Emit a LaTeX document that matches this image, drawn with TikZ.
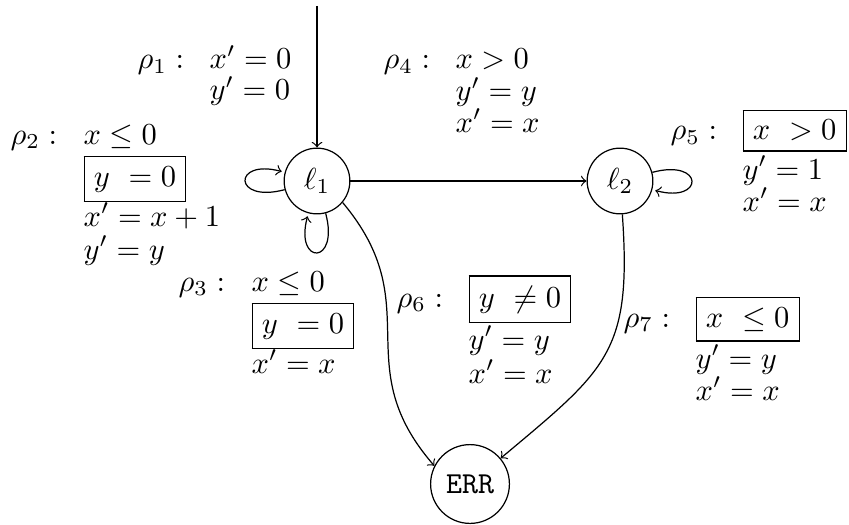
\documentclass[tikz,border=0pt]{standalone}
\begin{document}
\begin{tikzpicture}[x=0.328pt,y=0.328pt,
  st/.style={draw,circle},
  lab/.style={anchor=base west,inner sep=0pt},
  >=to]
\useasboundingbox (0,0) rectangle (849,-524);
% states
\node[st] (l1) at (317,-181) {$\ell_1$};
\node[st] (l2) at (620,-181) {$\ell_2$};
\node[st] (err) at (470,-484) {\texttt{ERR}};
\coordinate (init) at (317,-6);
% transitions
\draw[->] (init) -- (l1);
\draw[->] (l1) -- (l2);
\path[->] (l1) edge[loop left] (l1);
\path[->] (l1) edge[loop below] (l1);
\path[->] (l2) edge[loop right] (l2);
\draw[->] (l1.-40) .. controls +(-50:135) and +(131:135) .. (err.153);
\draw[->] (l2) to[out=-86,in=40,looseness=1.3] (err);
% rho1
\node[lab] (r1) at (137,-69) {$\rho_1 :$};
\node[lab] (r1a) at (209,-69) {$x' = 0$};
\node[lab] (r1b) at (209,-100) {$y' = 0$};
% rho4
\node[lab] (r4) at (383,-69) {$\rho_4 :$};
\node[lab] (r4a) at (455,-69) {$x > 0$};
\node[lab] (r4b) at (455,-101) {$y' = y$};
\node[lab] (r4c) at (455,-132) {$x' = x$};
% rho2
\node[lab] (r2) at (10,-144) {$\rho_2 :$};
\node[lab] (r2a) at (83,-144) {$x \leq 0$};
\node[lab] (r2b) at (83,-186) {\fbox{$y\ = 0$}};
\node[lab] (r2c) at (83,-226) {$x' = x + 1$};
\node[lab] (r2d) at (83,-259) {$y' = y$};
% rho3
\node[lab] (r3) at (178,-291) {$\rho_3 :$};
\node[lab] (r3a) at (251,-291) {$x \leq 0$};
\node[lab] (r3b) at (251,-333) {\fbox{$y\ = 0$}};
\node[lab] (r3c) at (251,-373) {$x' = x$};
% rho5
\node[lab] (r5) at (670,-140) {$\rho_5 :$};
\node[lab] (r5a) at (742,-140) {\fbox{$x\ > 0$}};
\node[lab] (r5b) at (742,-179) {$y' = 1$};
\node[lab] (r5c) at (742,-211) {$x' = x$};
% rho6
\node[lab] (r6) at (396,-307) {$\rho_6 :$};
\node[lab] (r6a) at (468,-307) {\fbox{$y\ \neq 0$}};
\node[lab] (r6b) at (468,-349) {$y' = y$};
\node[lab] (r6c) at (468,-383) {$x' = x$};
% rho7
\node[lab] (r7) at (623,-327) {$\rho_7 :$};
\node[lab] (r7a) at (695,-327) {\fbox{$x\ \leq 0$}};
\node[lab] (r7b) at (695,-368) {$y' = y$};
\node[lab] (r7c) at (695,-400) {$x' = x$};
\end{tikzpicture}
\end{document}
